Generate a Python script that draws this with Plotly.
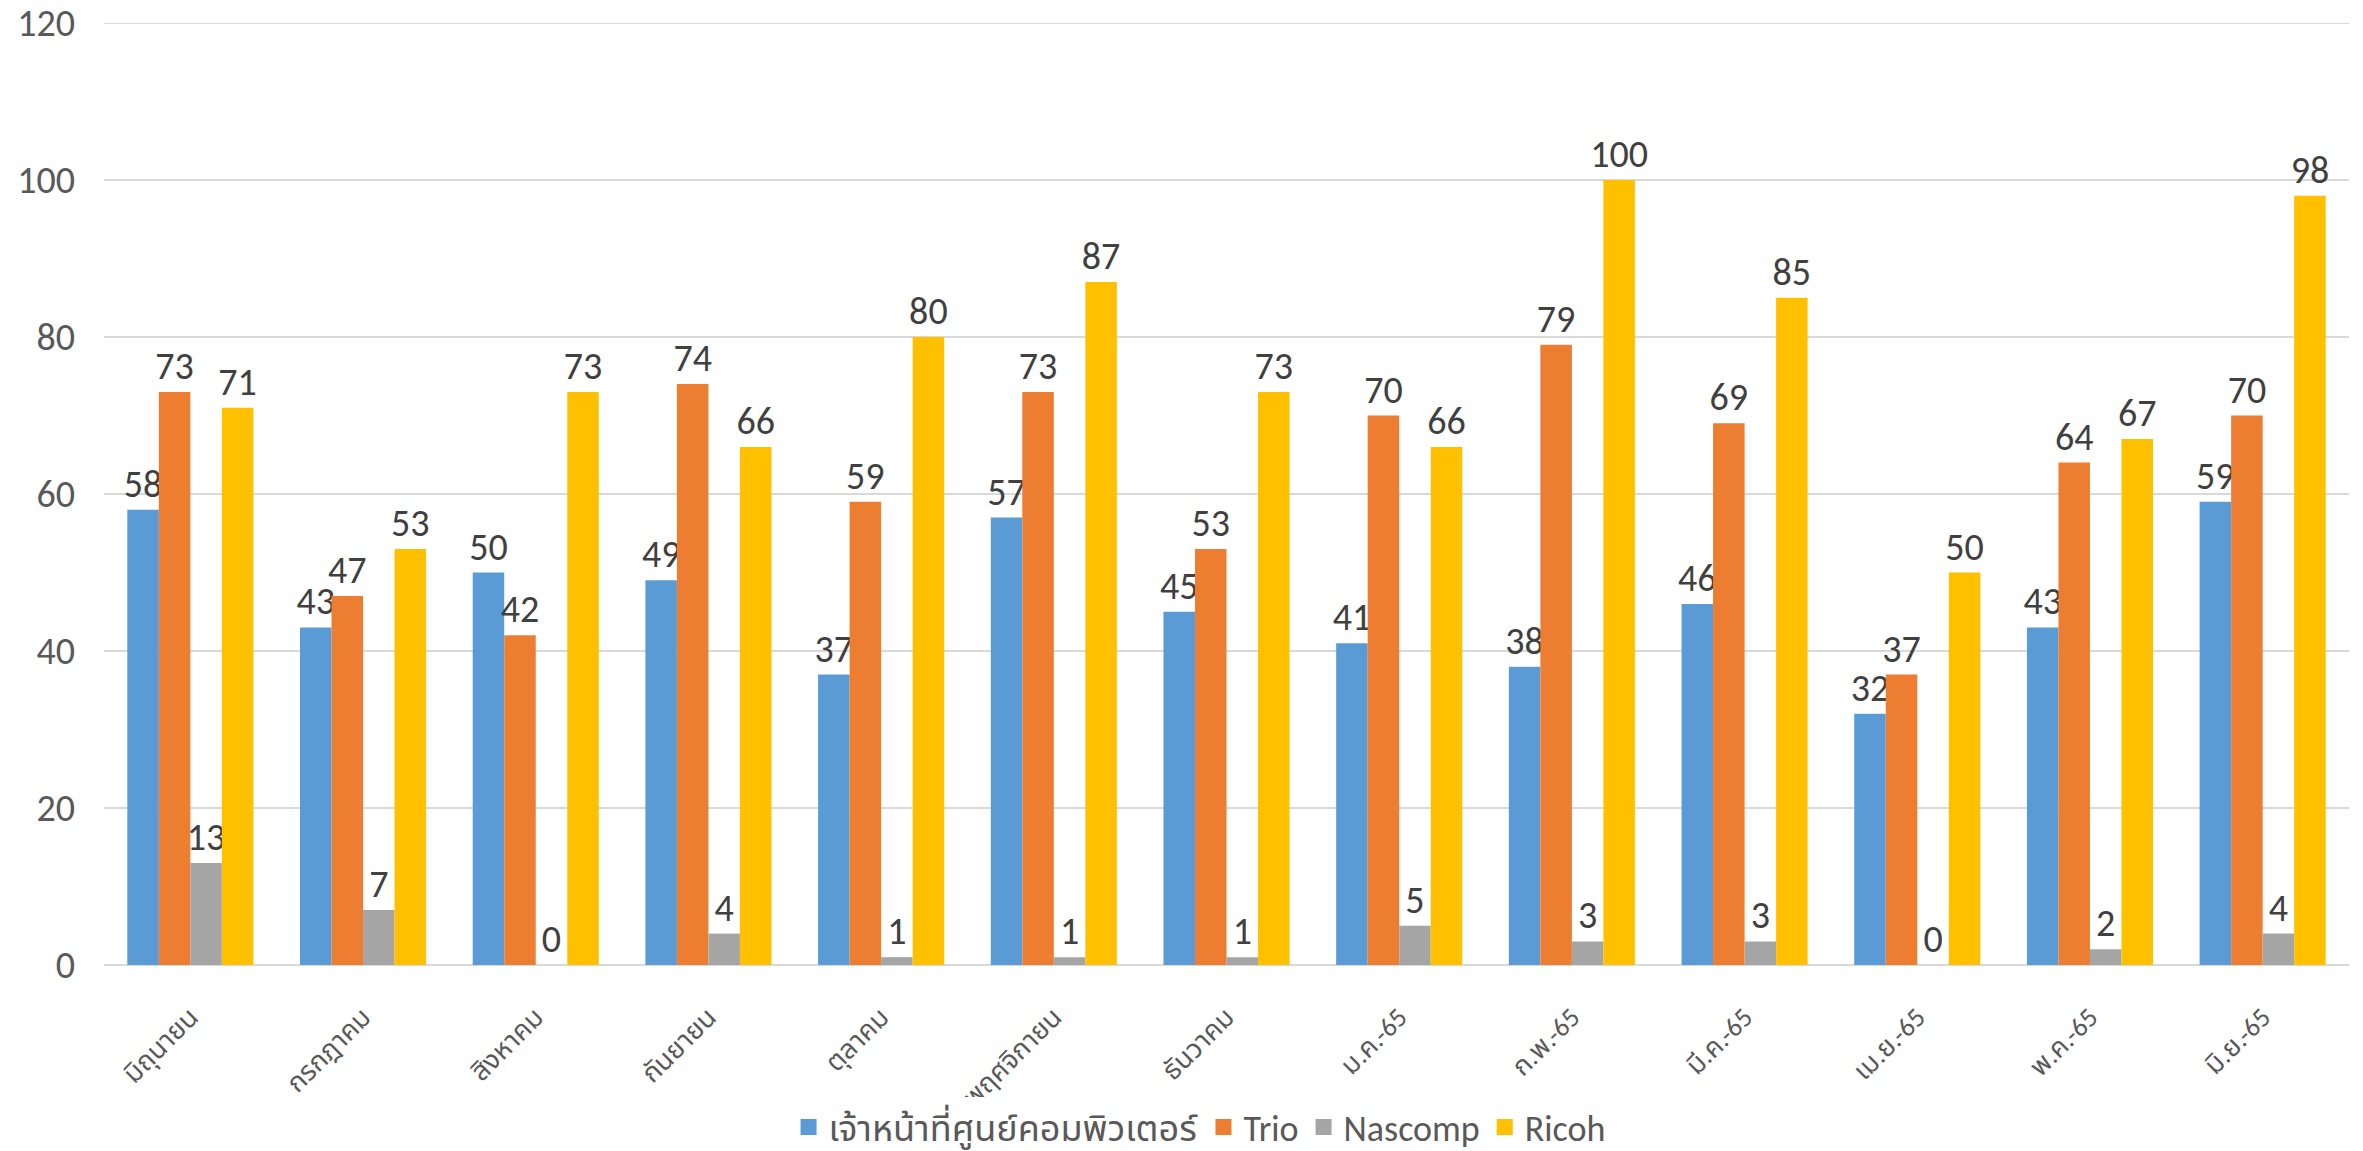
import plotly.graph_objects as go

categories = ["มิถุนายน", "กรกฎาคม", "สิงหาคม", "กันยายน", "ตุลาคม", "พฤศจิกายน",
              "ธันวาคม", "ม.ค.-65", "ก.พ.-65", "มี.ค.-65", "เม.ย.-65", "พ.ค.-65", "มิ.ย.-65"]
staff = [58, 43, 50, 49, 37, 57, 45, 41, 38, 46, 32, 43, 59]
trio = [73, 47, 42, 74, 59, 73, 53, 70, 79, 69, 37, 64, 70]
nascomp = [13, 7, 0, 4, 1, 1, 1, 5, 3, 3, 0, 2, 4]
ricoh = [71, 53, 73, 66, 80, 87, 73, 66, 100, 85, 50, 67, 98]
y_max = 120

series = [
    ("เจ้าหน้าที่ศูนย์คอมพิวเตอร์", staff, "#5B9BD5"),
    ("Trio", trio, "#ED7D31"),
    ("Nascomp", nascomp, "#A5A5A5"),
    ("Ricoh", ricoh, "#FFC000"),
]

FONT = "Calibri, Carlito, Lato, 'Noto Sans Thai', 'Noto Sans', sans-serif"

fig = go.Figure()
for name, vals, color in series:
    fig.add_trace(go.Bar(
        x=categories, y=vals, name=name,
        marker=dict(color=color, line=dict(width=0)),
        text=[str(v) for v in vals], textposition="outside",
        textfont=dict(size=38, color="#404040", family=FONT),
        constraintext="none",
        cliponaxis=False, showlegend=False,
    ))
# legend entries with square swatches
for name, vals, color in series:
    fig.add_trace(go.Scatter(
        x=[None], y=[None], name=name, mode="markers",
        marker=dict(symbol="square", size=24, color=color),
        showlegend=True,
    ))

fig.add_shape(type="line", xref="paper", x0=0, x1=1, yref="y", y0=y_max, y1=y_max,
              line=dict(color="#D9D9D9", width=2), layer="below")

fig.update_layout(
    width=2363, height=1151,
    barmode="group", bargap=0.27, bargroupgap=0,
    plot_bgcolor="white", paper_bgcolor="white",
    margin=dict(l=104, r=14, t=23, b=186, autoexpand=False),
    font=dict(family=FONT, color="#595959"),
    showlegend=True,
    legend=dict(orientation="h", x=0.488, xanchor="center", y=-0.172, yanchor="middle",
                font=dict(size=36, color="#595959", family=FONT),
                traceorder="normal", itemsizing="trace", itemwidth=30),
)
fig.update_yaxes(range=[0, y_max], dtick=20, showgrid=True, gridcolor="#D9D9D9", gridwidth=2,
                 zeroline=True, zerolinecolor="#D9D9D9", zerolinewidth=2,
                 tickfont=dict(size=38, color="#595959"), ticks="", ticklabelstandoff=28,
                 automargin=False)
fig.update_xaxes(tickangle=-45, tickfont=dict(size=27, color="#595959"), showline=False,
                 ticks="", ticklabelstandoff=30, automargin=False)

fig.write_html("out.html", config={"displayModeBar": False},
               post_script="document.body.style.margin='0px';")
